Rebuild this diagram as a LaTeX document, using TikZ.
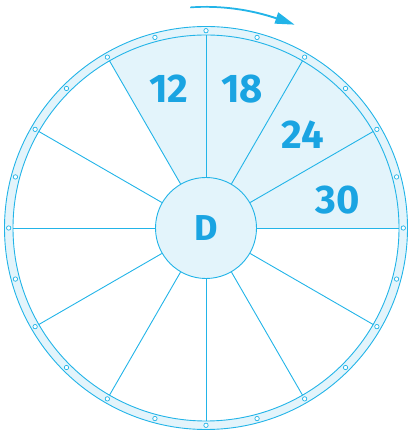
\documentclass[tikz,border=0pt]{standalone}
\usepackage{fontspec}
\usetikzlibrary{arrows.meta}
\newfontfamily\numfont{Fira Sans}
\definecolor{wheelblue}{HTML}{22B4E8}
\definecolor{wheelfill}{HTML}{E3F4FB}
\definecolor{numblue}{HTML}{1AA4E2}
\begin{document}
\begin{tikzpicture}[x=1pt,y=1pt,
 every node/.style={font=\numfont\bfseries\fontsize{40}{40}\selectfont,text=numblue,inner sep=0pt},
 rim/.style={wheelblue,line width=0.9}]
  \useasboundingbox (-206,-207) rectangle (201,228);
  % shaded sectors and rim
  \fill[wheelfill] (0,0) -- (0:193) arc (0:120:193) -- cycle;
  \fill[wheelfill,even odd rule] (0,0) circle (201.5) circle (193);
  \draw[rim] (0,0) circle (201.5);
  \draw[rim] (0,0) circle (193);
  \node[circle,draw=wheelblue,fill=wheelfill,line width=0.9,minimum size=101,font=\numfont\bfseries\fontsize{36}{36}\selectfont] (hub) at (0,0) {D};
  \foreach \a in {0,30,...,330}{\draw[rim] (hub.\a) -- (\a:193);}
  \foreach \a in {0,15,...,345}{\draw[wheelblue,line width=0.7,fill=white] (\a:197.3) circle (2.2);}
  % numbers
  \node (n12) at (-37,139) {12};
  \node (n18) at (36,139) {18};
  \node (n24) at (97,93) {24};
  \node (n30) at (132,28) {30};
  % turning arrow
  \fill[wheelblue] (94:222) arc (94:71:223.6) -- (71:220.2) arc (71:94:222) -- cycle;
  \fill[wheelblue] (71.5:227.5) -- (66.5:221.8) -- (71.5:215.5) -- cycle;
\end{tikzpicture}
\end{document}
